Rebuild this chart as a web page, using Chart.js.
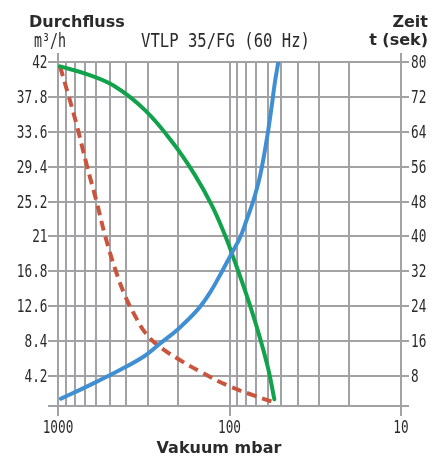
<!DOCTYPE html>
<html>
<head>
<meta charset="utf-8">
<script src="https://cdn.jsdelivr.net/npm/chart.js@4.4.0/dist/chart.umd.min.js"></script>
<style>
  body { margin: 0; background: #fff; }
  canvas { display: block; }
</style>
</head>
<body>
<canvas id="chart" width="446" height="456"></canvas>
<script>
// x axis: Vakuum mbar (log, 1000 -> 10)
const xGrid = [1000, 900, 800, 700, 600, 500, 400, 300, 200, 100, 90, 80, 70, 60, 50, 40, 30, 20, 10];
const xLabelValues = [1000, 100, 10];
const xLabels = ['1000', '100', '10'];

// left axis: Durchfluss m3/h
const leftMin = 0.6;
const leftTicks = [4.2, 8.4, 12.6, 16.8, 21, 25.2, 29.4, 33.6, 37.8, 42];
const leftLabels = ['4.2', '8.4', '12.6', '16.8', '21', '25.2', '29.4', '33.6', '37.8', '42'];

// right axis: Zeit t (sek)
const rightMin = 1.14;
const rightTicks = [8, 16, 24, 32, 40, 48, 56, 64, 72, 80];
const rightLabels = ['8', '16', '24', '32', '40', '48', '56', '64', '72', '80'];

// green curve (left axis)
const flowVacuum = [973, 666, 465, 311, 213, 159, 127, 106.2, 92.9, 79.4, 67.9, 59.4, 54.8];
const flowValues = [41.47, 40.47, 39.05, 36.2, 32.22, 28.39, 24.77, 21.14, 17.92, 13.9, 9.46, 5.04, 1.42];

// red dashed curve (left axis)
const redVacuum = [973, 871, 778, 680, 595, 532, 465, 407, 356, 311, 260, 199, 145, 101.6, 71, 54.3];
const redValues = [41.47, 38.05, 34.43, 29.6, 25.16, 21.14, 17.12, 13.9, 11.48, 9.46, 7.86, 6.25, 4.63, 3.03, 1.82, 1.01];

// blue curve (right axis, time)
const timeVacuum = [961, 666, 425, 311, 260, 199, 152, 128.2, 110.6, 97.1, 86.9, 79.4, 72.6, 66.4, 60.7, 56.7, 54.3, 51.9];
const timeValues = [2.84, 5.76, 9.61, 12.67, 15.13, 18.81, 23.41, 27.5, 31.99, 36.13, 39.7, 43.84, 48.21, 53.84, 62.13, 69.95, 75.47, 80];

const gridColor = '#a2a2a4';
const textColor = '#2a2a2a';
const tickFont = '17px "DejaVu Sans Mono"';
const boldFont = 'bold 16px "DejaVu Sans"';

function toPoints(xs, ys){
    return xs.map(function(x, i){ return {x: x, y: ys[i]}; });
}

function drawText(ctx, text, x, y, font, align, sx){
    ctx.save();
    ctx.font = font;
    ctx.fillStyle = textColor;
    ctx.textAlign = align;
    ctx.textBaseline = 'alphabetic';
    ctx.translate(x, y);
    ctx.scale(sx || 1, 1);
    ctx.fillText(text, 0, 0);
    ctx.restore();
}

/* --------------------------
   LABELS + TITLES
--------------------------- */
const labelPlugin = {
    id: 'labels',
    afterDraw: function(chart){
        const ctx = chart.ctx;
        const area = chart.chartArea;
        const sx = chart.scales.x, sy = chart.scales.y, sy1 = chart.scales.y1;

        // border extensions above the plot
        ctx.save();
        ctx.strokeStyle = gridColor;
        ctx.lineWidth = 2;
        ctx.beginPath();
        [sx.getPixelForValue(1000), sx.getPixelForValue(10)].forEach(function(px){
            px = Math.round(px);
            ctx.moveTo(px, area.top - 9);
            ctx.lineTo(px, area.top);
        });
        ctx.stroke();
        ctx.restore();

        leftTicks.forEach(function(v, i){
            drawText(ctx, leftLabels[i], 47.5, sy.getPixelForValue(v) + 6, tickFont, 'right', 0.75);
        });
        rightTicks.forEach(function(v, i){
            drawText(ctx, rightLabels[i], 411, sy1.getPixelForValue(v) + 6, tickFont, 'left', 0.75);
        });
        xLabelValues.forEach(function(v, i){
            drawText(ctx, xLabels[i], sx.getPixelForValue(v), 433, tickFont, 'center', 0.75);
        });

        drawText(ctx, 'Durchfluss', 29, 26.5, boldFont, 'left');
        drawText(ctx, 'm\u00b3/h', 34, 46.5, '19px "DejaVu Sans Mono"', 'left', 0.7);
        drawText(ctx, 'VTLP 35/FG (60 Hz)', 225.5, 46.5, '19px "DejaVu Sans Mono"', 'center', 0.82);
        drawText(ctx, 'Zeit', 428, 26.5, boldFont, 'right');
        drawText(ctx, 't (sek)', 428, 44.5, boldFont, 'right');
        drawText(ctx, 'Vakuum mbar', 219, 452.5, boldFont, 'center');
    }
};

new Chart(document.getElementById('chart'), {
    type: 'line',
    data: {
        datasets: [{
            data: toPoints(timeVacuum, timeValues),
            yAxisID: 'y1',
            borderColor: '#408fd3',
            borderWidth: 4
        }, {
            data: toPoints(flowVacuum, flowValues),
            yAxisID: 'y',
            borderColor: '#12a24c',
            borderWidth: 4
        }, {
            data: toPoints(redVacuum, redValues),
            yAxisID: 'y',
            borderColor: '#c9553e',
            borderWidth: 4,
            borderDash: [10, 6],
            borderCapStyle: 'butt'
        }]
    },
    options: {
        responsive: false,
        animation: false,
        devicePixelRatio: 1,
        layout: { padding: { top: 62 } },
        plugins: { legend: { display: false }, tooltip: { enabled: false } },
        elements: {
            point: { radius: 0 },
            line: { tension: 0.4, borderCapStyle: 'round', borderJoinStyle: 'round' }
        },
        scales: {
            x: {
                type: 'logarithmic',
                position: 'bottom',
                reverse: true,
                min: 10,
                max: 1000,
                afterBuildTicks: function(s){ s.ticks = xGrid.map(function(v){ return {value: v}; }); },
                afterFit: function(s){ s.height = 50; },
                ticks: { display: false },
                grid: {
                    color: gridColor,
                    lineWidth: 2,
                    tickLength: 10,
                    tickColor: function(c){
                        return c.tick && xLabelValues.indexOf(c.tick.value) >= 0 ? gridColor : 'rgba(0,0,0,0)';
                    }
                },
                border: { display: false }
            },
            y: {
                position: 'left',
                min: leftMin,
                max: 42,
                afterBuildTicks: function(s){ s.ticks = [leftMin].concat(leftTicks).map(function(v){ return {value: v}; }); },
                afterFit: function(s){ s.width = 58; },
                ticks: { display: false },
                grid: { color: gridColor, lineWidth: 2, tickLength: 10 },
                border: { display: false }
            },
            y1: {
                position: 'right',
                min: rightMin,
                max: 80,
                afterBuildTicks: function(s){ s.ticks = [rightMin].concat(rightTicks).map(function(v){ return {value: v}; }); },
                afterFit: function(s){ s.width = 45; },
                ticks: { display: false },
                grid: { color: gridColor, lineWidth: 2, tickLength: 8, drawOnChartArea: false },
                border: { display: false }
            }
        }
    },
    plugins: [labelPlugin]
});
</script>
</body>
</html>
